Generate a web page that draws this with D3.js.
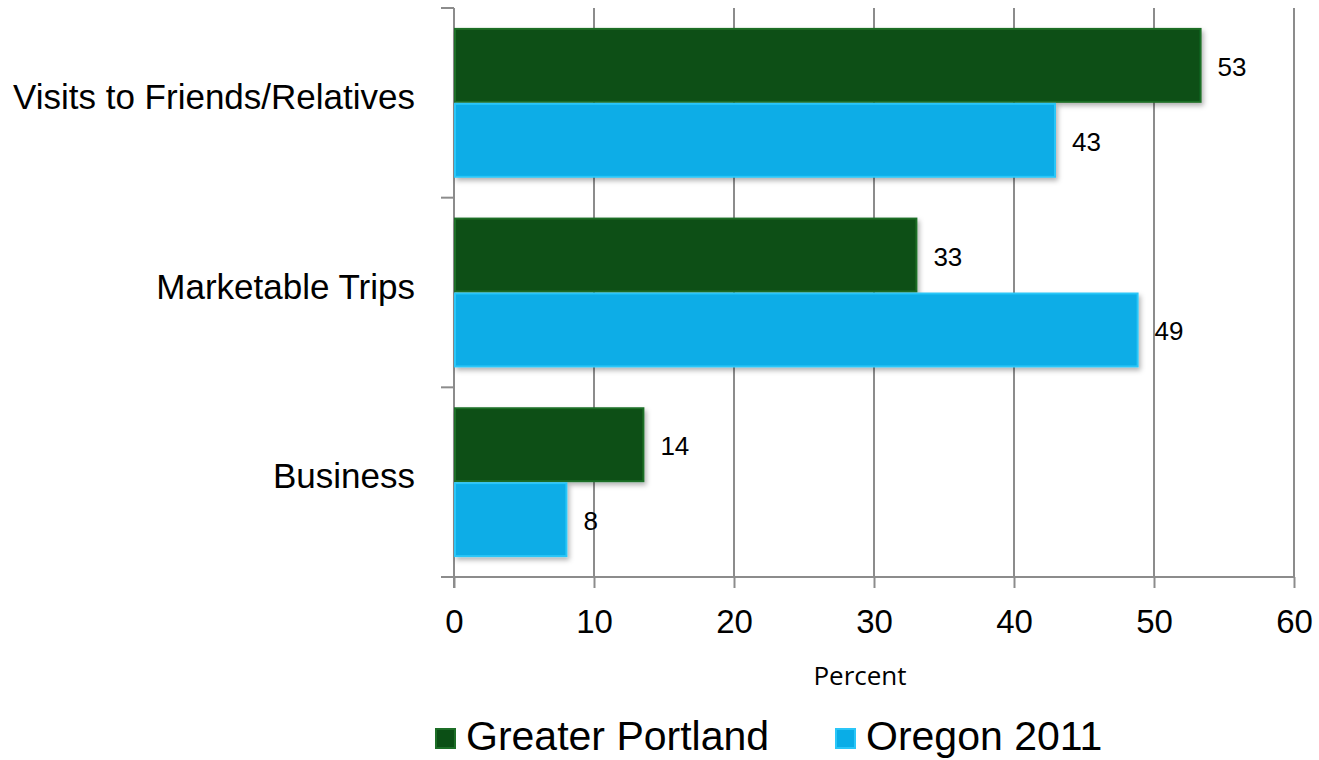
<!DOCTYPE html>
<html><head><meta charset="utf-8">
<script src="https://cdn.jsdelivr.net/npm/d3@7/dist/d3.min.js"></script>
<style>body{margin:0;background:#fff} text{font-family:'Liberation Sans', Arial, sans-serif;}</style>
</head><body>
<svg id="chart" width="1319" height="760"></svg>
<script>
const categories = ["Visits to Friends/Relatives", "Marketable Trips", "Business"];
const seriesNames = ["Greater Portland", "Oregon 2011"];
const greaterPortland = [53.4, 33.1, 13.6];
const oregon2011 = [43.0, 48.9, 8.1];
const xTicks = [0, 10, 20, 30, 40, 50, 60];
const colors = ["#0b4f15", "#09ade7"];
const strokeColors = ["#1d6e27", "#2ac6f8"];

const svg = d3.select("#chart");
const defs = svg.append("defs");
const f = defs.append("filter").attr("id","sh").attr("x","-5%").attr("y","-10%").attr("width","115%").attr("height","130%");
f.append("feDropShadow").attr("dx",2).attr("dy",3).attr("stdDeviation",2.5).attr("flood-color","#000").attr("flood-opacity",0.3);

const mLeft = 454, mRight = 1294, mTop = 8, mBottom = 577;
const x = d3.scaleLinear().domain([0, 60]).range([mLeft, mRight]);
const y = d3.scaleBand().domain(categories).range([mTop, mBottom]).paddingInner(0.21).paddingOuter(0.105);
const ySub = d3.scaleBand().domain(seriesNames).range([0, y.bandwidth()]);

// gridlines
svg.append("g").selectAll("line").data(xTicks.slice(1)).join("line")
  .attr("x1", d => x(d)).attr("x2", d => x(d)).attr("y1", mTop).attr("y2", mBottom)
  .attr("stroke", "#8c8c8c").attr("stroke-width", 2);

// x axis
const xAxis = svg.append("g").attr("transform", `translate(0,${mBottom})`)
  .call(d3.axisBottom(x).tickValues(xTicks).tickSize(11));
xAxis.select(".domain").attr("d", `M${mLeft-13},0H${mRight}`).attr("stroke", "#8c8c8c").attr("stroke-width", 2);
xAxis.selectAll(".tick line").attr("stroke", "#8c8c8c").attr("stroke-width", 2);
xAxis.selectAll(".tick text").attr("font-family", null).attr("font-size", 33).attr("fill", "#000")
  .attr("y", 56).attr("dy", null);

// y axis
const yEdges = [mTop, ...categories.map((c,i) => mTop + (mBottom-mTop)/categories.length*(i+1))];
svg.append("line").attr("x1", mLeft).attr("x2", mLeft).attr("y1", mTop).attr("y2", mBottom+11)
  .attr("stroke", "#8c8c8c").attr("stroke-width", 2);
svg.append("g").selectAll("line").data(yEdges).join("line")
  .attr("x1", mLeft-13).attr("x2", mLeft).attr("y1", d => d).attr("y2", d => d)
  .attr("stroke", "#8c8c8c").attr("stroke-width", 2);
svg.append("g").selectAll("text").data(categories).join("text")
  .attr("x", 415).attr("y", d => y(d) + y.bandwidth()/2 + 6)
  .attr("text-anchor", "end").attr("font-size", 35).text(d => d);

// bars
const data = categories.map((c, i) => ({c, vals: [greaterPortland[i], oregon2011[i]]}));
const groups = svg.append("g").selectAll("g").data(data).join("g")
  .attr("transform", d => `translate(0,${y(d.c)})`);
groups.selectAll("rect").data(d => d.vals.map((v, j) => ({v, s: seriesNames[j], j}))).join("rect")
  .attr("x", x(0)+1).attr("y", d => ySub(d.s)+1)
  .attr("width", d => x(d.v) - x(0) - 2).attr("height", ySub.bandwidth() - 2)
  .attr("fill", d => colors[d.j]).attr("stroke", d => strokeColors[d.j]).attr("stroke-width", 2)
  .attr("filter", "url(#sh)");
groups.selectAll("text").data(d => d.vals.map((v, j) => ({v, s: seriesNames[j], j}))).join("text")
  .attr("x", d => x(d.v) + 16).attr("y", d => ySub(d.s) + ySub.bandwidth()/2 + 10.5)
  .attr("font-size", 26)
  .text(d => d3.format(".0f")(d.v));

// x axis title
svg.append("text").attr("x", 860).attr("y", 685).attr("text-anchor", "middle")
  .style("font-family", "'Open Sans', sans-serif").attr("font-size", 26).text("Percent");

// legend
const legendX = [435, 835];
const lg = svg.append("g").selectAll("g").data(seriesNames).join("g")
  .attr("transform", (d, i) => `translate(${legendX[i]},728)`);
lg.append("rect").attr("x", 1).attr("y", 1).attr("width", 19).attr("height", 19)
  .attr("fill", (d, i) => colors[i]).attr("stroke", (d, i) => strokeColors[i]).attr("stroke-width", 2);
lg.append("text").attr("x", 31).attr("y", 22).attr("font-size", 41).text(d => d);
</script>
</body></html>
